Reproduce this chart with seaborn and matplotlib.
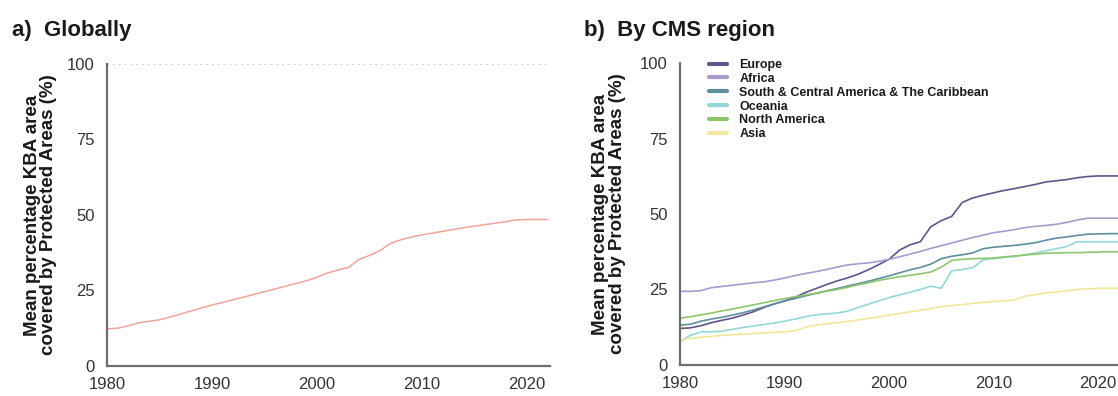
import numpy as np
import pandas as pd
import matplotlib
matplotlib.use("Agg")
import matplotlib.pyplot as plt
from matplotlib.lines import Line2D
import seaborn as sns

years = list(range(1980, 2023))

global_mean = [12.3, 12.5, 13.3, 14.3, 14.8, 15.3, 16.2, 17.2, 18.2, 19.2,
               20.2, 21.0, 21.9, 22.8, 23.7, 24.6, 25.5, 26.4, 27.3, 28.2,
               29.4, 30.8, 31.8, 32.6, 35.3, 36.6, 38.2, 40.6, 41.8, 42.7,
               43.4, 44.0, 44.6, 45.2, 45.8, 46.3, 46.8, 47.3, 47.8, 48.4,
               48.5, 48.5, 48.5]

europe = [12.1, 12.3, 13.0, 14.0, 14.8, 15.5, 16.5, 17.6, 19.0, 20.2,
          21.2, 22.4, 24.0, 25.3, 26.6, 27.8, 28.8, 30.0, 31.5, 33.2,
          35.0, 38.0, 39.8, 40.8, 45.8, 47.8, 49.2, 53.8, 55.3, 56.2,
          57.0, 57.8, 58.4, 59.1, 59.8, 60.6, 61.0, 61.4, 62.0, 62.4,
          62.6, 62.6, 62.6]
africa = [24.4, 24.4, 24.6, 25.6, 26.0, 26.4, 26.8, 27.2, 27.5, 28.1,
          28.8, 29.6, 30.3, 30.9, 31.6, 32.4, 33.1, 33.5, 33.8, 34.3,
          35.0, 35.8, 36.7, 37.6, 38.6, 39.5, 40.4, 41.3, 42.2, 43.0,
          43.8, 44.3, 44.8, 45.5, 45.9, 46.2, 46.6, 47.2, 48.0, 48.6,
          48.6, 48.6, 48.6]
sc_america = [13.2, 13.5, 14.5, 15.2, 15.8, 16.5, 17.3, 18.2, 19.2, 20.2,
              21.2, 22.0, 22.9, 23.7, 24.5, 25.3, 26.1, 26.9, 27.7, 28.6,
              29.5, 30.5, 31.5, 32.3, 33.4, 35.2, 36.0, 36.5, 37.1, 38.5,
              39.0, 39.3, 39.6, 40.0, 40.5, 41.3, 42.0, 42.4, 42.9, 43.3,
              43.4, 43.5, 43.5]
oceania = [7.7, 9.8, 11.0, 11.0, 11.2, 11.8, 12.4, 12.9, 13.4, 13.9,
           14.5, 15.2, 16.0, 16.6, 16.9, 17.2, 17.8, 19.0, 20.1, 21.2,
           22.3, 23.2, 24.1, 25.0, 26.1, 25.4, 31.2, 31.6, 32.2, 34.8,
           35.2, 35.6, 35.9, 36.5, 37.1, 37.8, 38.5, 39.2, 40.8, 40.8,
           40.8, 40.8, 40.8]
n_america = [15.5, 16.0, 16.6, 17.2, 17.9, 18.5, 19.2, 19.9, 20.6, 21.3,
             22.0, 22.6, 23.2, 23.8, 24.4, 25.0, 25.7, 26.5, 27.2, 28.0,
             28.6, 29.2, 29.7, 30.2, 30.8, 32.4, 34.6, 35.0, 35.2, 35.3,
             35.4, 35.8, 36.1, 36.4, 36.7, 37.0, 37.1, 37.2, 37.2, 37.3,
             37.4, 37.5, 37.5]
asia = [8.3, 8.8, 9.2, 9.5, 9.8, 10.0, 10.2, 10.4, 10.6, 10.8,
        11.0, 11.3, 12.5, 13.2, 13.6, 14.0, 14.4, 14.9, 15.4, 15.9,
        16.5, 17.0, 17.6, 18.1, 18.7, 19.3, 19.7, 20.0, 20.4, 20.7,
        21.0, 21.2, 21.5, 22.8, 23.3, 23.8, 24.2, 24.6, 25.0, 25.2,
        25.4, 25.4, 25.4]

regions = ["Europe", "Africa", "South & Central America & The Caribbean",
           "Oceania", "North America", "Asia"]
region_values = [europe, africa, sc_america, oceania, n_america, asia]
region_colors = ["#62548a", "#a99acd", "#5f8e9e", "#93d8d6", "#8fc56e", "#f1e79a"]
global_color = "#f0a49c"

y_ticks = [0, 25, 50, 75, 100]
x_ticks = [1980, 1990, 2000, 2010, 2020]
y_label = "Mean percentage KBA area\ncovered by Protected Areas (%)"

sns.set_theme(style="white")
plt.rcParams["font.family"] = ["Liberation Sans", "DejaVu Sans"]

df_global = pd.DataFrame({"year": years, "value": global_mean})
df_regions = pd.DataFrame({
    "year": years * len(regions),
    "value": np.concatenate(region_values),
    "region": np.repeat(regions, len(years)),
})

fig = plt.figure(figsize=(11.18, 3.96), dpi=100)
ax1 = fig.add_axes([0.0957, 0.0758, 0.3963, 0.7626])
ax2 = fig.add_axes([0.6082, 0.0783, 0.3945, 0.7626])

sns.lineplot(data=df_global, x="year", y="value", color=global_color,
             linewidth=1.1, ax=ax1)
sns.lineplot(data=df_regions, x="year", y="value", hue="region",
             hue_order=regions, palette=dict(zip(regions, region_colors)),
             linewidth=1.2, legend=False, ax=ax2)

ax1.axhline(100, color="#cfcfcf", linestyle=(0, (1, 2)), linewidth=1.4, zorder=0)

for ax, pad in ((ax1, 7), (ax2, 10)):
    ax.set_xlim(1980, 2022.2)
    ax.set_ylim(0, 100)
    ax.set_xticks(x_ticks)
    ax.set_yticks(y_ticks)
    ax.set_xlabel("")
    ax.set_ylabel(y_label, fontsize=13.5, fontweight="bold", color="#1a1a1a",
                  linespacing=0.95, labelpad=pad)
    for side in ("top", "right"):
        ax.spines[side].set_visible(False)
    for side in ("left", "bottom"):
        ax.spines[side].set_color("#6e6e6e")
        ax.spines[side].set_linewidth(1.6)
    ax.tick_params(axis="both", labelsize=12, labelcolor="#333333",
                   direction="in", length=3, width=0.8, color="#9a9a9a")
    ax.tick_params(axis="x", pad=8)
    ax.tick_params(axis="y", pad=9)

fig.text(0.011, 0.922, "a)  Globally", fontsize=16, fontweight="bold",
         color="#1a1a1a", va="center")
fig.text(0.522, 0.922, "b)  By CMS region", fontsize=16, fontweight="bold",
         color="#1a1a1a", va="center")

handles = [Line2D([0], [0], color=c, linewidth=3) for c in region_colors]
leg = ax2.legend(handles, regions, loc="upper left", bbox_to_anchor=(0.055, 1.03),
                 frameon=False, handlelength=1.4, handletextpad=1.0,
                 labelspacing=0.15, borderaxespad=0.0,
                 prop={"weight": "bold", "size": 9})
for t in leg.get_texts():
    t.set_color("#1a1a1a")

fig.savefig("out.png", dpi=100)
